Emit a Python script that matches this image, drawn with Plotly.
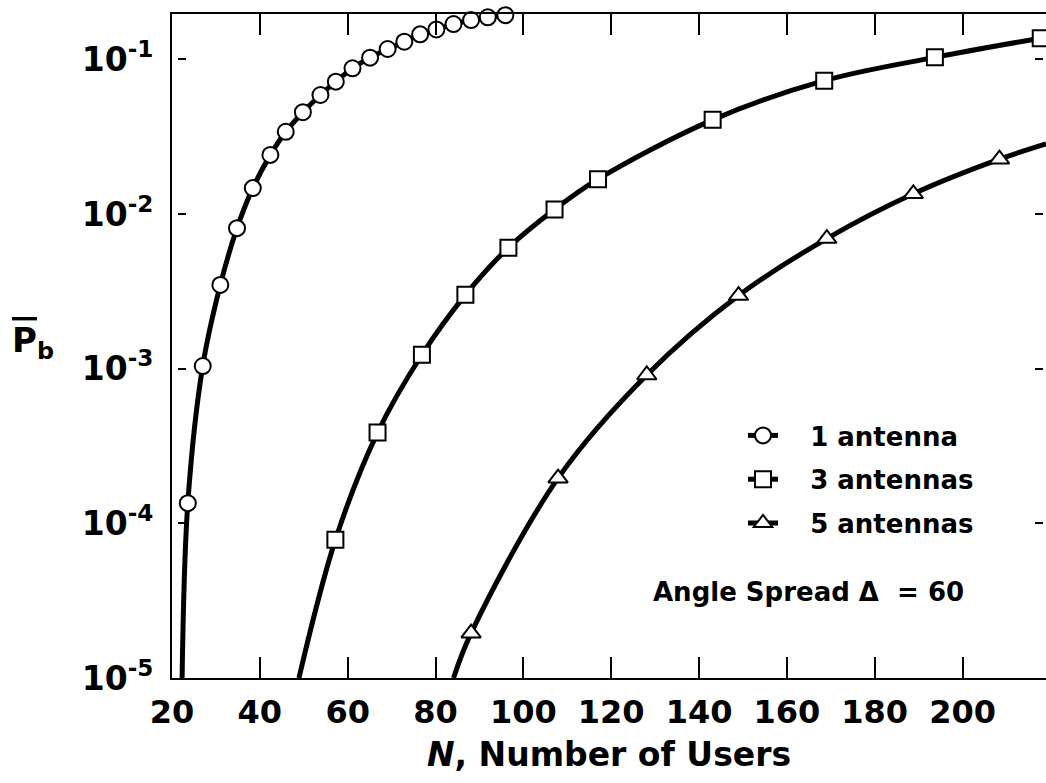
import plotly.graph_objects as go

# ---------------- data ----------------
# 1 antenna (circles)
n_1ant = [23.6, 27.0, 31.0, 34.8, 38.4, 42.4, 45.9, 49.8, 53.8, 57.3,
          61.1, 65.1, 69.1, 72.9, 76.5, 80.2, 84.1, 88.1, 91.9, 95.9]
p_1ant = [1.35e-4, 1.04e-3, 3.48e-3, 8.1e-3, 1.47e-2, 2.41e-2, 3.40e-2, 4.55e-2,
          5.88e-2, 7.17e-2, 8.75e-2, 0.1025, 0.1166, 0.130, 0.145, 0.156,
          0.169, 0.1795, 0.187, 0.193]
n_1ant_start, p_1ant_start = 22.3, 1e-5

# 3 antennas (squares)
n_3ant = [57.2, 66.8, 76.9, 86.8, 96.6, 107.1, 117.0, 143.1, 168.5, 193.7, 217.8]
p_3ant = [7.82e-5, 3.86e-4, 1.23e-3, 3.0e-3, 6.06e-3, 1.07e-2, 1.68e-2,
          4.06e-2, 7.28e-2, 0.103, 0.137]
n_3ant_start, p_3ant_start = 48.9, 1e-5

# 5 antennas (triangles)
n_5ant = [88.1, 107.9, 128.1, 149.0, 169.1, 188.8, 208.4]
p_5ant = [1.95e-5, 1.96e-4, 9.10e-4, 2.97e-3, 6.93e-3, 1.35e-2, 2.26e-2]
n_5ant_start, p_5ant_start = 84.1, 1e-5
n_5ant_end, p_5ant_end = 219.0, 2.84e-2

x_ticks = [20, 40, 60, 80, 100, 120, 140, 160, 180, 200]
y_ticks = [1e-5, 1e-4, 1e-3, 1e-2, 1e-1]
y_ticktext = ["10<sup>-5</sup>", "10<sup>-4</sup>", "10<sup>-3</sup>",
              "10<sup>-2</sup>", "10<sup>-1</sup>"]

names = ["1 antenna", "3 antennas", "5 antennas"]
symbols = ["circle", "square", "triangle-up"]
msizes = [16, 16, 17]

# ---------------- figure ----------------
FONT = "DejaVu Sans"
LW = 5
fig = go.Figure()

series = [
    ([n_1ant_start] + n_1ant, [p_1ant_start] + p_1ant, n_1ant, p_1ant),
    ([n_3ant_start] + n_3ant, [p_3ant_start] + p_3ant, n_3ant, p_3ant),
    ([n_5ant_start] + n_5ant + [n_5ant_end], [p_5ant_start] + p_5ant + [p_5ant_end],
     n_5ant, p_5ant),
]

for i, (lx, ly, mx, my) in enumerate(series):
    fig.add_trace(go.Scatter(
        x=lx, y=ly, mode="lines", line=dict(color="black", width=LW, shape="spline", smoothing=1.0),
        showlegend=False, hoverinfo="skip"))
for i, (lx, ly, mx, my) in enumerate(series):
    fig.add_trace(go.Scatter(
        x=mx, y=my, mode="markers", cliponaxis=False,
        marker=dict(symbol=symbols[i], size=msizes[i], color="white",
                    line=dict(color="black", width=2)),
        showlegend=False))

# legend entries
for i, name in enumerate(names):
    fig.add_trace(go.Scatter(
        x=[None], y=[None], mode="lines+markers", name="\u00a0\u00a0\u00a0" + name,
        legendgroup=name,
        line=dict(color="black", width=LW),
        marker=dict(symbol=symbols[i], size=msizes[i], color="white",
                    line=dict(color="black", width=2)),
        yaxis="y2" if i < 2 else "y3"))

W, H = 1046, 783
ML, MR, MT, MB = 172, 0, 14, 105
PW = W - ML - MR
YR = [-5, -0.707]

fig.update_layout(
    width=W, height=H, autosize=False,
    margin=dict(l=ML, r=MR, t=MT, b=MB, pad=0),
    paper_bgcolor="white", plot_bgcolor="white",
    font=dict(family=FONT, color="black", weight="bold"),
    xaxis=dict(
        range=[20, 219], tickvals=x_ticks, ticks="inside", ticklen=21, tickwidth=2,
        tickcolor="black", showline=True, linewidth=2, linecolor="black",
        mirror="ticks", showgrid=False, zeroline=False,
        tickfont=dict(family=FONT, size=32, weight="bold"),
        ticklabelstandoff=5,
        title=dict(text="<i>N</i>, Number of Users",
                   font=dict(family=FONT, size=33, weight="bold"), standoff=12),
    ),
    yaxis=dict(
        type="log", range=YR, tickvals=y_ticks, ticktext=y_ticktext,
        ticks="", showline=True, linewidth=2, linecolor="black",
        showgrid=False, zeroline=False,
        tickfont=dict(family=FONT, size=33, weight="bold"),
        ticklabelstandoff=10,
    ),
    yaxis2=dict(
        type="log", range=YR, tickvals=y_ticks, overlaying="y", anchor="free",
        position=5 / PW, side="left", ticks="inside", ticklen=8, tickwidth=2,
        tickcolor="black", showticklabels=False, showline=False, showgrid=False,
        zeroline=False,
    ),
    yaxis3=dict(
        type="log", range=YR, tickvals=y_ticks, overlaying="y", anchor="free",
        position=(1043 - ML) / PW, side="right", ticks="inside", ticklen=8, tickwidth=2,
        tickcolor="black", showticklabels=False, showline=False, showgrid=False,
        zeroline=False,
    ),
    legend=dict(
        x=(743 - ML) / PW, y=(678 - 412) / 664, xanchor="left", yanchor="top",
        bgcolor="rgba(0,0,0,0)", borderwidth=0,
        font=dict(family=FONT, size=26, weight="bold"),
        tracegroupgap=7, traceorder="grouped",
    ),
    showlegend=True,
)

fig.add_annotation(
    text="Angle Spread \u0394\u00a0 = 60", xref="paper", yref="paper",
    x=(808 - ML) / PW, y=(678 - 592) / 664, xanchor="center", yanchor="middle",
    showarrow=False, font=dict(family=FONT, size=26, weight="bold"))

fig.add_annotation(
    text='<span style="text-decoration:overline">P</span><sub>b</sub>',
    xref="paper", yref="paper", x=(10 - ML) / PW, y=(678 - 342) / 664,
    xanchor="left", yanchor="middle", showarrow=False,
    font=dict(family=FONT, size=34, weight="bold"))

fig.write_html("out.html")
